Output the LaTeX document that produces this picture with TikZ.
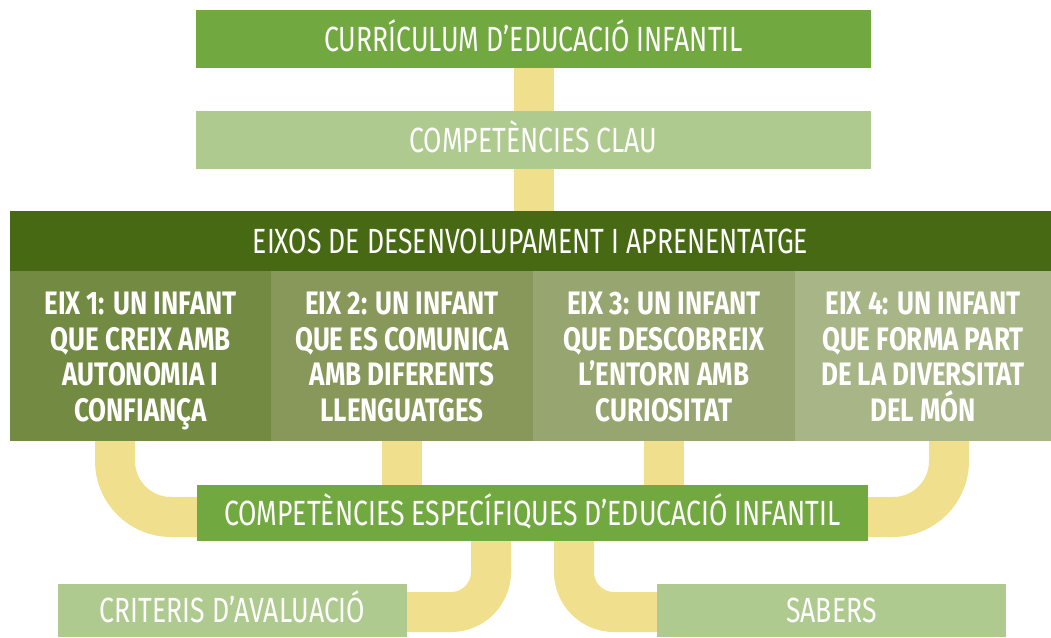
\documentclass[tikz,border=0pt]{standalone}
\usepackage{fontspec}
\setmainfont{Fira Sans}
\newfontfamily\tfont[FakeStretch=0.76]{Fira Sans}
\newfontfamily\cfont[FakeStretch=0.8]{Fira Sans}
\definecolor{topgreen}{HTML}{72A840}
\definecolor{lightgreen}{HTML}{AECA8E}
\definecolor{darkband}{HTML}{476914}
\definecolor{colA}{HTML}{738A43}
\definecolor{colB}{HTML}{87985A}
\definecolor{colC}{HTML}{97A570}
\definecolor{colD}{HTML}{A7B587}
\definecolor{conncol}{HTML}{F0E08E}
\pgfdeclarelayer{bg}
\pgfsetlayers{bg,main}
\tikzset{
  box/.style={rectangle, inner sep=0pt, text=white, align=center},
  ttl/.style={font=\tfont\fontsize{35}{38}\selectfont, text height=24pt, text depth=0pt},
  colbox/.style={box, minimum height=170pt},
  coltext/.style={rectangle, inner sep=0pt, text=white, align=center, anchor=north, font=\cfont\bfseries\fontsize{32.5}{35.5}\selectfont},
  conn/.style={draw=conncol, line width=40pt},
}
\begin{document}
\begin{tikzpicture}[x=1pt,y=-1pt]
\useasboundingbox (0,0) rectangle (1051,637);
\node[box, ttl, fill=topgreen, minimum width=675pt, minimum height=58pt] (top) at (533.5,39) {CURRÍCULUM D’EDUCACIÓ INFANTIL};
\node[box, ttl, fill=lightgreen, minimum width=675pt, minimum height=58pt] (cc) at (533.5,140) {COMPETÈNCIES CLAU};
\node[box, ttl, fill=darkband, minimum width=1041pt, minimum height=60pt] (band) at (530.5,241) {EIXOS DE DESENVOLUPAMENT I APRENENTATGE};
\node[colbox, fill=colA, minimum width=261pt] (col1) at (140.5,356) {};
\node[colbox, fill=colB, minimum width=262pt] (col2) at (402,356) {};
\node[colbox, fill=colC, minimum width=262pt] (col3) at (664,356) {};
\node[colbox, fill=colD, minimum width=256pt] (col4) at (923,356) {};
\node[coltext] (col1t) at ([yshift=-21pt]col1.north) {EIX 1: UN INFANT\\QUE CREIX AMB\\AUTONOMIA I\\CONFIANÇA};
\node[coltext] (col2t) at ([yshift=-21pt]col2.north) {EIX 2: UN INFANT\\QUE ES COMUNICA\\AMB DIFERENTS\\LLENGUATGES};
\node[coltext] (col3t) at ([yshift=-21pt]col3.north) {EIX 3: UN INFANT\\QUE DESCOBREIX\\L’ENTORN AMB\\CURIOSITAT};
\node[coltext] (col4t) at ([yshift=-21pt]col4.north) {EIX 4: UN INFANT\\QUE FORMA PART\\DE LA DIVERSITAT\\DEL MÓN};
\node[box, ttl, fill=topgreen, minimum width=671pt, minimum height=56pt] (cei) at (532.5,513) {COMPETÈNCIES ESPECÍFIQUES D’EDUCACIÓ INFANTIL};
\node[box, ttl, fill=lightgreen, minimum width=349pt, minimum height=53pt] (crit) at (232.5,610.5) {CRITERIS D’AVALUACIÓ};
\node[box, ttl, fill=lightgreen, minimum width=349pt, minimum height=53pt] (sab) at (831.5,610.5) {SABERS};
\begin{pgfonlayer}{bg}
\draw[conn] (top.south) -- (cc.north);
\draw[conn] (cc.south) -- (cc.south |- band.north);
\draw[conn, rounded corners=56pt] ([xshift=-25.5pt,yshift=5pt]col1.south) |- ([xshift=10pt,yshift=-4pt]cei.west);
\draw[conn] ([yshift=5pt]col2.south) -- (col2.south |- cei.north);
\draw[conn] ([yshift=5pt]col3.south) -- (col3.south |- cei.north);
\draw[conn, rounded corners=56pt] ([xshift=26pt,yshift=5pt]col4.south) |- ([xshift=-10pt,yshift=-4pt]cei.east);
\draw[conn, rounded corners=40pt] ([xshift=-41.5pt,yshift=5pt]cei.south) |- ([xshift=-10pt,yshift=-1.5pt]crit.east);
\draw[conn, rounded corners=40pt] ([xshift=41.5pt,yshift=5pt]cei.south) |- ([xshift=10pt,yshift=-1.5pt]sab.west);
\end{pgfonlayer}
\end{tikzpicture}
\end{document}
